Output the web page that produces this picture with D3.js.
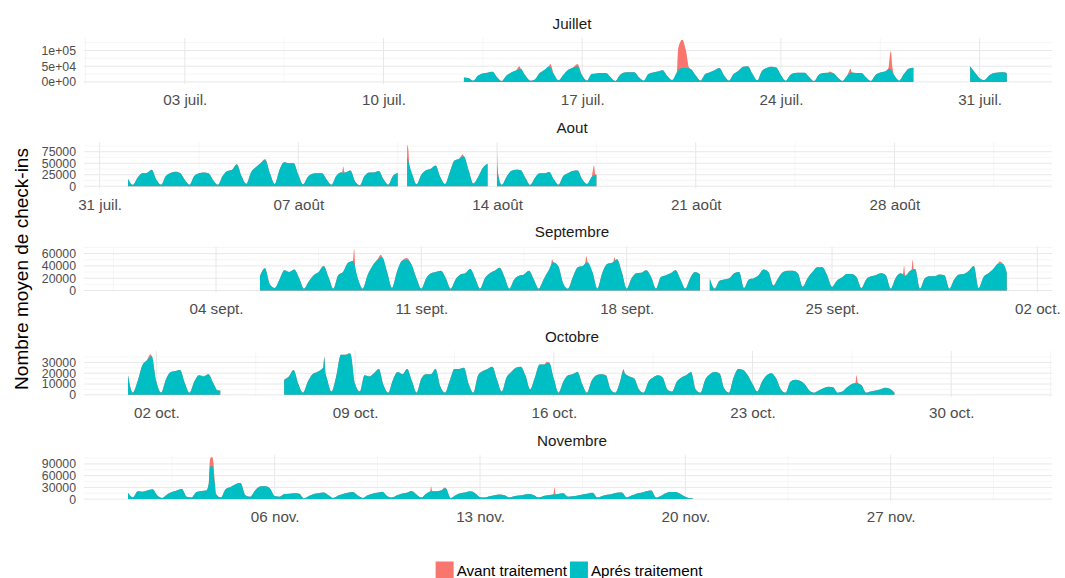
<!DOCTYPE html>
<html><head><meta charset="utf-8">
<script src="https://cdn.jsdelivr.net/npm/d3@7"></script>
<style>
body{margin:0;background:#fff;}
svg{display:block;font-family:"Liberation Sans",Arial,Helvetica,sans-serif;}
</style>
</head><body>
<svg id="chart" width="1065" height="578"></svg>
<script>
// ---------------- DATA (values in thousands of check-ins, one value every 4 h: 0h,4h,8h,12h,16h,20h) ----------------
const panelNames = ["Juillet", "Aout", "Septembre", "Octobre", "Novembre"];
const panelMonths = ["2017-07", "2017-08", "2017-09", "2017-10", "2017-11"];
const firstDays = ["2017-07-12", "2017-08-01", "2017-09-05", "2017-10-01", "2017-11-01"];
const stepHours = 4;

const julApres = [
  null,null,null,null,null,14, // 12
  12,4,20,27,29,32,   // 13
  15,3,20,30,36,42,   // 14
  20,4,8,28,38,50,    // 15
  25,5,22,38,45,50,   // 16
  20,4,25,27,28,28,   // 17
  15,3,22,30,31,31,   // 18
  15,4,25,30,33,37,   // 19
  18,6,30,44,44,40,   // 20
  20,4,25,31,37,44,   // 21
  20,4,25,35,48,50,   // 22
  25,5,35,44,48,46,   // 23
  22,4,22,28,29,29,   // 24
  15,3,22,28,29,28,   // 25
  14,3,20,30,28,28,   // 26
  14,3,22,30,33,42,   // 27
  20,4,25,42,45,null, // 28
  null,null,null,null,null,null, // 29
  null,null,null,null,50,30,     // 30
  12,6,20,28,30,31    // 31
];
const julApresExtra = [["07-31 23",28]];
const julAvantExtra = [["07-14 19",50],["07-15 21",57],["07-16 20",57],
  ["07-20 9",100],["07-20 10",118],["07-20 11",128],["07-20 12",133],["07-20 13",133],["07-20 14",125],
  ["07-20 15",110],["07-20 16",95],["07-20 17",70],["07-20 18",48],
  ["07-25 17",33],["07-26 11",42],["07-27 19",45],["07-27 20",80],["07-27 21",98],["07-27 22",55]];

const augApres = [
  16.5,3,18,28,29,36, // 1
  14,3,22,29,31,29,   // 2
  14,3,22,28,30,28,   // 3
  13,3,22,33,36,48,   // 4
  22,5,30,41,50,57,   // 5
  28,5,35,52,50,50,   // 6
  25,4,20,27,28,28,   // 7
  14,3,22,30,30,34,   // 8
  10,2,22,30,30,33,   // 9
  15,3,22,28,null,65, // 10
  28,4,25,35,38,45,   // 11
  20,5,30,56,60,65,   // 12
  35,6,20,40,49,null, // 13
  45,3,20,33,36,35,   // 14
  18,3,18,28,28,31,   // 15
  15,3,22,28,33,34,   // 16
  15,5,20,25,null,null // 17
];
const augApresExtra = [["08-14 1",24]];
const augAvantExtra = [["08-02 16",32],["08-05 20",59],["08-08 13",30],["08-08 14",43],["08-08 15",30],
  ["08-10 20",91],["08-10 21",80],["08-10 22",42],["08-12 19",69],["08-14 0",80],["08-14 1",26],
  ["08-17 10",45],["08-17 11",26]];

const sepApres = [
  null,null,null,23,36,10, // 5
  4,18,33,30,34,20,   // 6
  3,15,25,30,40,22,   // 7
  3,25,30,45,48,20,   // 8
  3,25,40,50,54,30,   // 9
  4,30,48,50,42,20,   // 10
  3,20,28,30,32,20,   // 11
  3,18,26,28,35,20,   // 12
  3,20,28,32,37,22,   // 13
  3,18,24,26,32,18,   // 14
  3,18,32,46,40,12,   // 15
  3,22,38,40,46,30,   // 16
  3,28,43,45,51,30,   // 17
  3,20,28,29,33,22,   // 18
  3,22,25,28,33,18,   // 19
  3,20,30,26,null,19, // 20
  3,16,18,20,28,30,   // 21
  4,18,20,25,34,30,   // 22
  8,20,30,32,32,28,   // 23
  6,20,30,38,38,25,   // 24
  6,16,21,27,27,22,   // 25
  4,18,23,25,28,25,   // 26
  3,20,28,24,32,35,   // 27
  3,20,23,23,26,25,   // 28
  3,18,26,27,32,40,   // 29
  4,22,28,35,44,43    // 30
];
const sepApresExtra = [["09-30 23",29]];
const sepAvantExtra = [["09-08 16",48],["09-08 17",68],["09-08 18",36],["09-09 15",58],["09-10 12",53],
  ["09-15 10",40],["09-15 11",51],["09-16 14",44],["09-16 15",56],["09-16 16",46],
  ["09-17 13",46],["09-17 14",54],["09-17 15",48],["09-27 10",27],["09-27 11",40],["09-27 12",24],
  ["09-27 17",33],["09-27 18",50],["09-27 19",34],["09-30 17",47]];

const octApres = [
  18,2,12,27,32,36,   // 1
  12,2,14,21,22,23,   // 2
  11,2,12,18,17,19,   // 3
  11,4,null,null,null,null, // 4
  null,null,null,null,null,null, // 5
  null,null,null,14,17,23, // 6
  10,2,12,19,21,24,   // 7
  16,3,17,37,37,38,   // 8
  10,3,18,17,20,24,   // 9
  9,2,14,21,19,24,    // 10
  13,2,15,19,19,24,   // 11
  8,2,13,24,24,25,    // 12
  10,2,18,22,24,26,   // 13
  14,3,16,21,25,26,   // 14
  18,5,16,28,28,30,   // 15
  15,2,12,18,19,21,   // 16
  10,2,13,18,19,18,   // 17
  5,2,12,20,17,15,    // 18
  5,2,12,16,18,16,    // 19
  5,3,12,16,18,21,    // 20
  5,2,14,19,21,20,    // 21
  6,2,16,24,23,18,    // 22
  10,3,12,18,20,15,   // 23
  5,2,12,14,13,10,    // 24
  4,2,4,6,7.5,7,      // 25
  2,3,7,10,11,9,      // 26
  2,3,4,5,6.5,5.5,    // 27
  2,null,null,null,null,null // 28
];
const octApresExtra = [["10-04 6",4],["10-07 21",25],["10-07 22",34],["10-07 23",20],["10-18 11",22.7]];
const octAvantExtra = [["10-01 19",37.5],["10-07 22",35.5],["10-08 19",38.7],["10-15 18",30.5],
  ["10-18 11",24],["10-26 15",11],["10-26 16",18],["10-26 17",11]];

const novApres = [
  16,4,20,19,22,25,   // 1
  9,3,12,18,22,26,    // 2
  6,4,18,21,22,85,    // 3
  13,4,26,31,38,41,   // 4
  10,6,22,32,33,28,   // 5
  8,6,13,14,15,14,    // 6
  2,8,13,15,17,10,    // 7
  3,9,13,16,18,9,     // 8
  3,10,14,16,19,8,    // 9
  4,10,14,16,21,12,   // 10
  4,14,20,20,22,28,   // 11
  3,10,15,17,20,15,   // 12
  5,4,7,10,12,10,     // 13
  4,7,9,11,13,10,     // 14
  4,8,10,12,13,15,    // 15
  6,7,9,12,14,16,     // 16
  4,8,11,13,16,17,    // 17
  4,9,14,16,20,22,    // 18
  4,8,15,18,18,13,    // 19
  6,2,null,null,null,null // 20
];
const novApresExtra = [["11-03 18",38],["11-03 19",80],["11-03 21",85],["11-03 22",65],["11-03 23",40],["11-20 6",2]];
const novAvantExtra = [["11-03 19",100],["11-03 20",107],["11-03 21",107],["11-03 22",90],["11-03 23",45],
  ["11-11 7",16],["11-11 8",32],["11-11 9",20],["11-11 19",30],["11-15 12",12],["11-15 13",30],["11-15 14",12]];

const apresGrids = [julApres, augApres, sepApres, octApres, novApres];
const apresExtras = [julApresExtra, augApresExtra, sepApresExtra, octApresExtra, novApresExtra];
const avantExtras = [julAvantExtra, augAvantExtra, sepAvantExtra, octAvantExtra, novAvantExtra];

const yTickValues = [
  [0, 50000, 100000],
  [0, 25000, 50000, 75000],
  [0, 20000, 40000, 60000],
  [0, 10000, 20000, 30000],
  [0, 30000, 60000, 90000]
];
const yTickLabels = [
  ["0e+00", "5e+04", "1e+05"],
  ["0", "25000", "50000", "75000"],
  ["0", "20000", "40000", "60000"],
  ["0", "10000", "20000", "30000"],
  ["0", "30000", "60000", "90000"]
];
const seriesNames = ["Avant traitement", "Aprés traitement"];
const seriesColors = ["#F8766D", "#00BFC4"];
const yTitle = "Nombre moyen de check-ins";

// ---------------- LAYOUT ----------------
const panelLeft = 84, panelRight = 1052, panelTop0 = 38, panelStep = 104.3, panelH = 46;
const gridMajor = "#e8e8e8", gridMinor = "#f2f2f2";

const svg = d3.select("#chart");
const parseH = d3.timeParse("%Y-%m-%d %H");
const parseM = d3.timeParse("%Y-%m");
const fr = d3.timeFormatLocale({
  dateTime: "%A %e %B %Y à %X", date: "%d/%m/%Y", time: "%H:%M:%S", periods: ["AM", "PM"],
  days: ["dimanche","lundi","mardi","mercredi","jeudi","vendredi","samedi"],
  shortDays: ["dim.","lun.","mar.","mer.","jeu.","ven.","sam."],
  months: ["janvier","février","mars","avril","mai","juin","juillet","août","septembre","octobre","novembre","décembre"],
  shortMonths: ["janv.","févr.","mars","avr.","mai","juin","juil.","août","sept.","oct.","nov.","déc."]
});
const fmtDay = fr.format("%d %b");

function buildSeries(firstDay, grid, extras) {
  const start = parseH(firstDay + " 0");
  const pts = grid.map((v, i) => ({t: d3.timeHour.offset(start, i * stepHours), v: v == null ? null : v * 1000}));
  extras.forEach(([s, v]) => {
    const t = parseH("2017-" + s);
    const p = pts.find(q => +q.t === +t);
    if (p) p.v = v * 1000; else pts.push({t: t, v: v * 1000});
  });
  pts.sort((a, b) => a.t - b.t);
  return pts;
}

panelNames.forEach((name, i) => {
  const top = panelTop0 + i * panelStep;
  const bottom = top + panelH;
  const m0 = parseM(panelMonths[i]);
  const m1 = d3.timeMonth.offset(m0, 1);
  const L = m1 - m0;
  const x = d3.scaleTime().domain([new Date(+m0 - 0.05 * L), new Date(+m1 + 0.05 * L)]).range([panelLeft, panelRight]);

  const apres = buildSeries(firstDays[i], apresGrids[i], apresExtras[i]);
  const avant = buildSeries(firstDays[i], apresGrids[i], apresExtras[i].concat(avantExtras[i]));
  const M = d3.max(avant, d => d.v);
  const y = d3.scaleLinear().domain([-0.05 * M, 1.05 * M]).range([bottom, top]);

  const g = svg.append("g");

  // grid: y minor & major
  const yt = yTickValues[i];
  const ystep = yt[1] - yt[0];
  const yMinor = [];
  for (let k = 0; k < yt.length; k++) {
    const v = yt[k] + ystep / 2;
    if (v <= y.domain()[1]) yMinor.push(v);
  }
  if (yt[0] - ystep / 2 >= y.domain()[0]) yMinor.push(yt[0] - ystep / 2);
  g.selectAll(".yminor").data(yMinor).join("line")
    .attr("x1", panelLeft).attr("x2", panelRight)
    .attr("y1", d => y(d)).attr("y2", d => y(d))
    .attr("stroke", gridMinor).attr("stroke-width", 0.7);

  // x minor & major
  const [d0, d1] = x.domain();
  const mondays = d3.timeMonday.range(d0, d1);
  const xMinor = d3.timeMonday.range(d3.timeDay.offset(d0, -7), d3.timeDay.offset(d1, 7))
    .map(d => d3.timeHour.offset(d, 84)).filter(d => d >= d0 && d <= d1);
  g.selectAll(".xminor").data(xMinor).join("line")
    .attr("x1", d => x(d)).attr("x2", d => x(d))
    .attr("y1", top).attr("y2", bottom)
    .attr("stroke", gridMinor).attr("stroke-width", 0.7);

  g.selectAll(".ymajor").data(yt).join("line")
    .attr("x1", panelLeft).attr("x2", panelRight)
    .attr("y1", d => y(d)).attr("y2", d => y(d))
    .attr("stroke", gridMajor).attr("stroke-width", 1);
  g.selectAll(".xmajor").data(mondays).join("line")
    .attr("x1", d => x(d)).attr("x2", d => x(d))
    .attr("y1", top).attr("y2", bottom)
    .attr("stroke", gridMajor).attr("stroke-width", 1);

  // areas
  const area = d3.area().defined(d => d.v != null).curve(d3.curveMonotoneX)
    .x(d => x(d.t)).y0(y(0)).y1(d => y(d.v));
  g.append("path").datum(avant).attr("d", area).attr("fill", seriesColors[0]);
  g.append("path").datum(apres).attr("d", area).attr("fill", seriesColors[1]);

  // axes
  const ax = g.append("g").attr("transform", `translate(0,${bottom})`)
    .call(d3.axisBottom(x).tickValues(mondays).tickFormat(fmtDay).tickSize(0).tickPadding(10.5));
  ax.select(".domain").remove();
  ax.selectAll("text").attr("fill", "#4d4d4d").style("font-size", "15.2px").style("font-family", "inherit");

  const ay = g.append("g").attr("transform", `translate(${panelLeft},0)`)
    .call(d3.axisLeft(y).tickValues(yt).tickFormat((d, k) => yTickLabels[i][k]).tickSize(0).tickPadding(8));
  ay.select(".domain").remove();
  ay.selectAll("text").attr("fill", "#4d4d4d").style("font-size", "12.3px").style("font-family", "inherit");

  // strip title
  g.append("text").attr("x", (panelLeft + panelRight) / 2 + 4).attr("y", top - 14.8)
    .attr("text-anchor", "middle").attr("dominant-baseline", "central")
    .attr("fill", "#1a1a1a").style("font-size", "15.2px").text(name);
});

// y title
svg.append("text").attr("transform", "translate(21,269) rotate(-90)")
  .attr("text-anchor", "middle").attr("dominant-baseline", "central")
  .attr("fill", "#000").style("font-size", "19px").text(yTitle);

// legend
const leg = svg.append("g");
const keyW = 18, keyH = 17, gap = 3, legY = 570;
let cx = 0;
seriesNames.forEach((s, k) => {
  leg.append("rect").attr("x", cx).attr("y", legY - keyH / 2).attr("width", keyW).attr("height", keyH).attr("fill", seriesColors[k]);
  cx += keyW + gap;
  const t = leg.append("text").attr("x", cx).attr("y", legY).attr("dominant-baseline", "central")
    .attr("fill", "#000").style("font-size", "15.2px").text(s);
  cx += t.node().getComputedTextLength() + gap;
});
leg.attr("transform", `translate(${570.5 - cx / 2},0)`);
</script>
</body></html>
